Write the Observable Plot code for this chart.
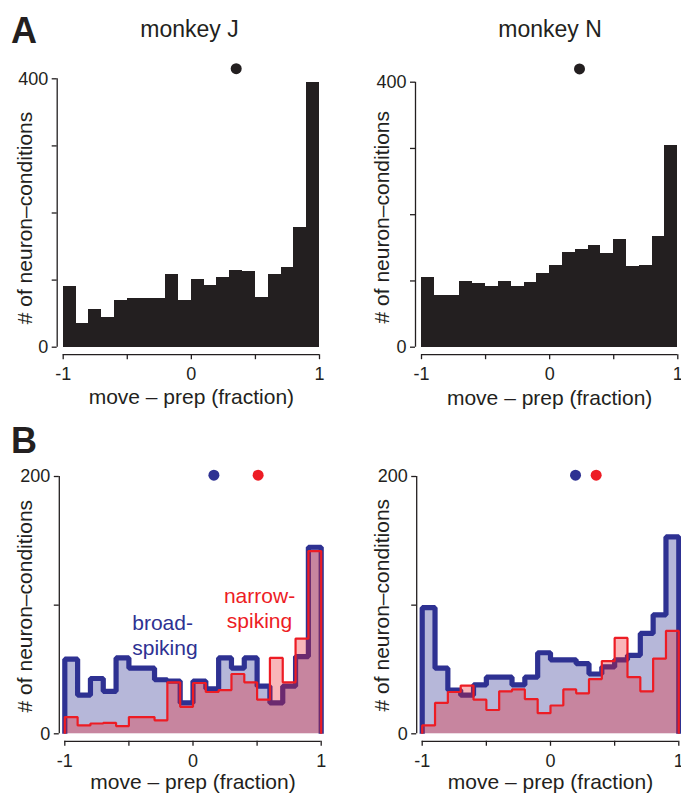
<!DOCTYPE html>
<html><head><meta charset="utf-8">
<script src="https://cdn.jsdelivr.net/npm/d3@7"></script>
<script src="https://cdn.jsdelivr.net/npm/@observablehq/plot@0.6"></script>
<style>
body{margin:0;background:#fff;}
#root{position:relative;width:681px;height:800px;overflow:hidden;font-family:"Liberation Sans",Arial,Helvetica,sans-serif;color:#231f20;background:#fff;}
.panel{position:absolute;}
.letter{position:absolute;font-weight:bold;font-size:36px;line-height:1;}
.title{position:absolute;font-size:23px;line-height:1;white-space:nowrap;transform:translateX(-50%);}
</style></head><body><div id="root"></div>
<script>
// ---- data ----
const binEdges = [-1,-0.9,-0.8,-0.7,-0.6,-0.5,-0.4,-0.3,-0.2,-0.1,0,0.1,0.2,0.3,0.4,0.5,0.6,0.7,0.8,0.9,1];
const monkeyJ = [90,36,56,45,70,72,72,72,108,70,101,92,104,115,113,74,108,119,178,394];
const monkeyN = [105,78,78,99,96,91,99,91,98,112,123,143,148,154,141,162,122,124,167,304];
const broadJ  = [58,30,43,33,59,51,51,42,41,24,41,35,59,51,59,37,24,37,60,145];
const narrowJ = [13,6.5,8,8.5,6,13,13,10.5,40,21,39.5,32.5,34,46.5,40,26.5,59,40,74,142];
const broadN  = [98,51,34,30,38,44,44,38,44,63,57.5,57.5,54.5,46.5,52,57.5,61,78,92.5,153];
const narrowN = [6.5,24,32.5,37.5,26.5,18.5,33,34.5,27,16,22,34.5,31.5,42.5,56.5,74.5,44,33,58.5,80];
const meanJ = 0.35, meanN = 0.233;
const meanBroadJ = 0.163, meanNarrowJ = 0.508;
const meanBroadN = 0.195, meanNarrowN = 0.356;
const xTicks = [-1,-0.5,0,0.5,1];
const xTickText = {"-1":"-1","0":"0","1":"1"};
const titles = ["monkey J","monkey N"];
const xTitle = "move – prep (fraction)";
const yTitle = "# of neuron–conditions";

const FONT = '"Liberation Sans", Arial, Helvetica, sans-serif';
const INK = "#231f20", BLUE = "#2e3192", RED = "#ed1c24";
const root = document.getElementById("root");

function panel(c) {
  const chart = Plot.plot({
    width: c.width, height: c.height,
    marginLeft: c.xL - c.left, marginRight: c.left + c.width - c.xR,
    marginTop: c.yTop - c.top, marginBottom: c.top + c.height - c.yBot,
    x: {domain: [-1, 1]}, y: {domain: [0, c.yMax]},
    style: {fontFamily: FONT, color: INK, background: "transparent"},
    marks: [
      ...c.marks,
      Plot.ruleY([0], {x1: -1, x2: 1, dy: 7.5, stroke: INK, strokeWidth: 1.2}),
      Plot.axisX({ticks: xTicks, tickFormat: d => xTickText[String(d)] || "", tickSize: 5, tickPadding: 8, dy: 7.5, fontSize: 18, strokeWidth: 1.3, label: null}),
      Plot.ruleX([-1], {y1: 0, y2: c.yMax, dx: c.yAxisDx, stroke: INK, strokeWidth: 1.3}),
      Plot.axisY({ticks: c.yTicks, tickFormat: d => (d === 0 || d === c.yMax) ? String(d) : "", tickSize: 5, tickPadding: 4, dx: c.yAxisDx, fontSize: 18, strokeWidth: 1.3, label: null}),
      Plot.text([xTitle], {frameAnchor: "bottom", textAnchor: "middle", lineAnchor: "middle", dy: c.xTitleDy, fontSize: 21, fill: INK}),
      Plot.text([yTitle], {frameAnchor: "left", textAnchor: "middle", lineAnchor: "middle", rotate: -90, dx: c.yTitleDx, dy: c.yTitleDy, fontSize: 21, fill: INK})
    ]
  });
  const div = document.createElement("div");
  div.className = "panel";
  div.style.left = c.left + "px"; div.style.top = c.top + "px";
  div.style.width = c.width + "px"; div.style.height = c.height + "px";
  div.appendChild(chart);
  root.appendChild(div);
}

function barMarks(values, mean, meanY) {
  const bins = values.map((v, i) => ({x1: binEdges[i], x2: binEdges[i + 1], y: v}));
  return [
    Plot.rectY(bins, {x1: "x1", x2: "x2", y1: 0, y2: "y", fill: INK, shapeRendering: "crispEdges"}),
    Plot.dot([mean], {x: d => d, y: () => meanY, r: 5.5, fill: INK})
  ];
}

function stepPoints(vals) {
  const pts = [{x: binEdges[0], y: 0}];
  vals.forEach((v, i) => { pts.push({x: binEdges[i], y: v}, {x: binEdges[i + 1], y: v}); });
  pts.push({x: binEdges[binEdges.length - 1], y: 0});
  return pts;
}

function stepMarks(broad, narrow, mB, mN) {
  const pb = stepPoints(broad), pn = stepPoints(narrow);
  return [
    Plot.areaY(pb, {x: "x", y1: 0, y2: "y", fill: BLUE, fillOpacity: 0.35}),
    Plot.line(pb, {x: "x", y: "y", stroke: BLUE, strokeWidth: 5.2, strokeLinejoin: "miter", strokeLinecap: "butt"}),
    Plot.areaY(pn, {x: "x", y1: 0, y2: "y", fill: RED, fillOpacity: 0.32}),
    Plot.line(pn, {x: "x", y: "y", stroke: RED, strokeWidth: 2.2, strokeLinejoin: "miter", strokeLinecap: "butt"}),
    Plot.dot([mB], {x: d => d, y: () => 201, r: 5.5, fill: BLUE}),
    Plot.dot([mN], {x: d => d, y: () => 201, r: 5.5, fill: RED})
  ];
}

// Row A
panel({left: 0, top: 50, width: 340, height: 370, xL: 62.7, xR: 319, yTop: 78.3, yBot: 346.7,
  yMax: 400, yTicks: [0,100,200,300,400], yAxisDx: -6, xTitleDy: 50, yTitleDx: -37.7, yTitleDy: 5,
  marks: barMarks(monkeyJ, meanJ, 415)});
panel({left: 340, top: 50, width: 341, height: 370, xL: 421, xR: 677.3, yTop: 81.7, yBot: 346.7,
  yMax: 400, yTicks: [0,100,200,300,400], yAxisDx: -6, xTitleDy: 51, yTitleDx: -39.3, yTitleDy: 2.5,
  marks: barMarks(monkeyN, meanN, 420)});

// Row B
panel({left: 0, top: 440, width: 340, height: 360, xL: 64.3, xR: 320.7, yTop: 476, yBot: 733.3,
  yMax: 200, yTicks: [0,100,200], yAxisDx: -5.5, xTitleDy: 48, yTitleDx: -39.3, yTitleDy: 1,
  marks: [
    ...stepMarks(broadJ, narrowJ, meanBroadJ, meanNarrowJ),
    Plot.text(["broad-\nspiking"], {x: () => -0.474, y: () => 77, textAnchor: "start", lineHeight: 1.19, fontSize: 21, fill: BLUE}),
    Plot.text(["narrow-\nspiking"], {x: () => 0.519, y: () => 97.8, textAnchor: "middle", lineHeight: 1.19, fontSize: 21, fill: RED})
  ]});
panel({left: 340, top: 440, width: 341, height: 360, xL: 421.7, xR: 678.3, yTop: 476, yBot: 733.3,
  yMax: 200, yTicks: [0,100,200], yAxisDx: -5.5, xTitleDy: 48, yTitleDx: -40, yTitleDy: 0,
  marks: stepMarks(broadN, narrowN, meanBroadN, meanNarrowN)});

// Headings
function addDiv(cls, text, left, top) {
  const d = document.createElement("div");
  d.className = cls; d.textContent = text;
  d.style.left = left + "px"; d.style.top = top + "px";
  root.appendChild(d);
}
addDiv("letter", "A", 11, 13);
addDiv("letter", "B", 11, 423);
addDiv("title", titles[0], 189.5, 17.5);
addDiv("title", titles[1], 550, 17.5);
</script></body></html>
